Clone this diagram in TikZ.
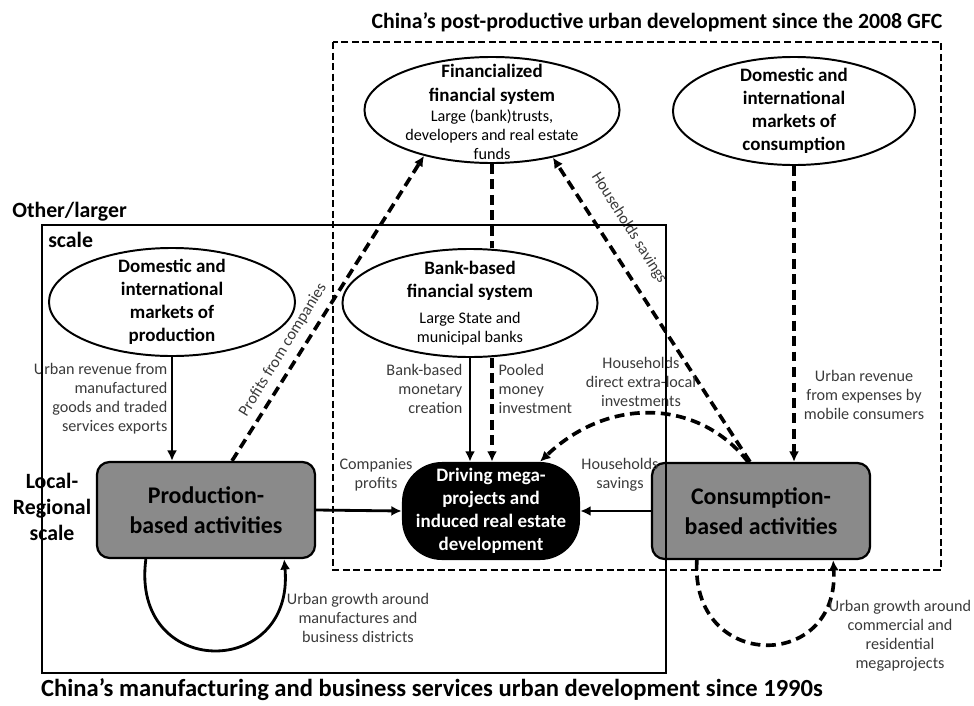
\documentclass[tikz,border=0pt]{standalone}
\usepackage{fontspec}
\setmainfont{Carlito}
\usetikzlibrary{arrows.meta,positioning,shapes.geometric,calc}
\definecolor{actgray}{HTML}{8A8A8A}
\definecolor{labelgray}{HTML}{3A3A3A}
\newcommand{\boldtext}{\fontsize{13.5}{16.5}\selectfont\bfseries}
\newcommand{\smalltext}{\fontsize{11.5}{13.5}\selectfont\mdseries}
\tikzset{
  market/.style={
    ellipse,draw=black,fill=white,line width=1.4pt,inner sep=0pt,
    minimum width=6.15cm,minimum height=2.7cm
  },
  marktext/.style={align=center,font=\boldtext,inner sep=0pt},
  activity/.style={
    rounded corners=9pt,draw=black,fill=actgray,line width=1.6pt,
    minimum width=5.45cm,minimum height=2.4cm,align=center,
    font=\fontsize{17}{21}\selectfont\bfseries
  },
  hub/.style={
    rounded corners=1cm,fill=black,text=white,
    minimum width=4.45cm,minimum height=2.45cm,align=center,
    font=\fontsize{13.5}{16.5}\selectfont\bfseries
  },
  flowlabel/.style={font=\smalltext,text=labelgray,align=center,inner sep=1pt},
  scalelabel/.style={font=\fontsize{15.5}{18.5}\selectfont\bfseries,inner sep=0pt},
  arrow/.style={-{Latex[length=2.6mm,width=2.5mm]},draw=black,line width=2pt},
  dasharrow/.style={arrow,line width=2.6pt,dash pattern=on 7pt off 4pt},
  dashlink/.style={draw=black,line width=2.6pt,dash pattern=on 7pt off 4pt},
  frame/.style={draw=black,line width=1.8pt},
  dashframe/.style={draw=black,line width=1.6pt,dash pattern=on 5pt off 2.5pt}
}
\begin{document}
\begin{tikzpicture}[x=0.025cm,y=-0.025cm]
\useasboundingbox (0,0) rectangle (974,705);

\node[market,minimum width=6.375cm,minimum height=2.65cm] (fin) at (492,110) {};
\node[marktext] (fintext) at (492,112) {Financialized\\financial system\\[-2pt]
  \smalltext Large (bank)trusts,\\[-3pt]\smalltext developers and real estate\\[-3pt]\smalltext funds};
\node[market,minimum width=6.05cm] (consmkt) at (794,111) {};
\node[marktext] (consmkttext) at (consmkt) {Domestic and\\international\\markets of\\consumption};
\node[market] (prodmkt) at (172,302) {};
\node[marktext] (prodmkttext) at (prodmkt) {Domestic and\\international\\markets of\\production};
\node[market,minimum width=6.375cm] (bank) at (470,303) {};
\node[marktext] (banktext) at (bank) {Bank-based\\financial system\\[2pt]
  \smalltext Large State and\\[-3pt]\smalltext municipal banks};

\node[activity] (prodact) at (206,510) {Production-\\based activities};
\node[activity] (consact) at (761,511) {Consumption-\\based activities};
\node[hub] (hub) at (491,511) {Driving mega-\\projects and\\induced real estate\\development};

\draw[arrow] (prodmkt.south) -- (prodmkt.south |- prodact.north);
\node[flowlabel,anchor=north east,align=right] (lblexport) at (169,362) {Urban revenue from\\manufactured\\goods and traded\\services exports};

\draw[dasharrow] ($(prodact.north)+(26,0)$) -- (fin.214);
\node[flowlabel,rotate=58.4] (lblprofits) at (283,350) {Profits from companies};

\draw[dasharrow] ($(consact.north)+(-11,0)$) -- (fin.322);
\node[flowlabel,rotate=-57.7] (lblsavings) at (629,228) {Households savings};

\draw[dashlink] (fin.south) -- (fin.south |- bank.north);
\draw[dasharrow] (fin.south |- bank.south) -- (fin.south |- hub.north);
\node[flowlabel,anchor=north west,align=left] (lblpooled) at (497,363) {Pooled\\money\\investment};

\draw[arrow] (bank.south) -- (bank.south |- hub.north);
\node[flowlabel,anchor=north east,align=right] (lblmonetary) at (464,363) {Bank-based\\monetary\\creation};

\draw[arrow] (prodact.east) -- (hub.west);
\node[flowlabel] (lblcompanies) at (376,475) {Companies\\profits};

\draw[arrow] (consact.west) -- (hub.east);
\node[flowlabel] (lblhouse) at (620,475) {Households\\savings};

\draw[dasharrow] ($(consact.north)+(-13,0)$) .. controls (700,400) and (610,395) .. ($(hub.north)+(49,0)$);
\node[flowlabel] (lbldirect) at (641,382) {Households\\direct extra-local\\investments};

\draw[dasharrow] (consmkt.south) -- (consmkt.south |- consact.north);
\node[flowlabel] (lblexpenses) at (864,395) {Urban revenue\\from expenses by\\mobile consumers};

\draw[arrow] ($(prodact.south west)+(50,0)$) .. controls (130,680) and (295,680) .. ($(prodact.south east)+(-32,0)$);
\node[flowlabel] (lblmanuf) at (358,618) {Urban growth around\\manufactures and\\business districts};

\draw[dasharrow] ($(consact.south west)+(46,0)$) .. controls (690,672) and (840,672) .. ($(consact.south east)+(-38,0)$);
\node[flowlabel] (lblcommercial) at (900,636) {Urban growth around\\commercial and\\residential\\megaprojects};

\node[scalelabel] (toptitle) at (657,22) {China’s post-productive urban development since the 2008 GFC};
\node[scalelabel,font=\fontsize{17.5}{20}\selectfont\bfseries] (bottitle) at (432,690) {China’s manufacturing and business services urban development since 1990s};
\node[scalelabel,anchor=west] (largerscale) at (12,212) {Other/larger};
\node[scalelabel,anchor=west] (largerscaleb) at (48,240) {scale};
\node[scalelabel,align=center] (localscale) at (52,507) {Local-\\Regional\\scale};

\draw[frame] (42,225) rectangle (666,673);
\draw[dashframe] (333,42) rectangle (941,570);
\end{tikzpicture}
\end{document}
